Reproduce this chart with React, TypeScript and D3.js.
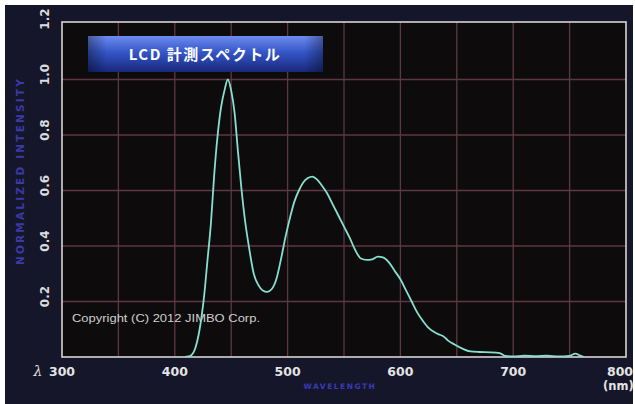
import React from "react";
import * as d3 from "d3";

const wavelengths = [409, 412, 415, 418, 422, 426, 429, 432, 435, 438, 441, 444, 447, 450, 453, 456, 459, 462, 466, 470, 474, 478, 482, 486, 490, 494, 498, 502, 506, 510, 514, 518, 522, 526, 530, 535, 540, 545, 550, 555, 560, 565, 570, 575, 580, 585, 590, 595, 600, 605, 610, 615, 620, 625, 630, 635, 638, 642, 648, 655, 662, 670, 680, 688, 693, 700, 710, 720, 730, 740, 750, 755, 760, 763];
const intensity = [0, 0.002, 0.008, 0.03, 0.1, 0.22, 0.35, 0.48, 0.66, 0.8, 0.9, 0.96, 1.0, 0.96, 0.88, 0.74, 0.61, 0.5, 0.39, 0.3, 0.26, 0.24, 0.235, 0.245, 0.28, 0.35, 0.43, 0.5, 0.56, 0.6, 0.63, 0.645, 0.65, 0.64, 0.62, 0.59, 0.55, 0.51, 0.47, 0.43, 0.385, 0.355, 0.35, 0.352, 0.362, 0.358, 0.34, 0.31, 0.28, 0.24, 0.2, 0.16, 0.13, 0.105, 0.09, 0.08, 0.075, 0.06, 0.045, 0.03, 0.02, 0.018, 0.017, 0.014, 0.004, 0.002, 0.005, 0.003, 0.005, 0.002, 0.004, 0.012, 0.004, 0];
const xTicks = [300, 400, 500, 600, 700, 800];
const xGrid = [350, 400, 450, 500, 550, 600, 650, 700, 750];
const yTicks = [0.2, 0.4, 0.6, 0.8, 1.0, 1.2];
const yGrid = [0.2, 0.4, 0.6, 0.8, 1.0];

export default function App() {
  const W = 635, H = 404;
  const x = d3.scaleLinear().domain([300, 800]).range([62, 626]);
  const y = d3.scaleLinear().domain([0, 1.2]).range([357, 24]);
  const data = wavelengths.map((w, i) => [w, intensity[i]] as [number, number]);
  const line = d3.line<[number, number]>().x(d => x(d[0])).y(d => y(d[1])).curve(d3.curveMonotoneX);
  const bold = "'DejaVu Sans', 'Liberation Sans', sans-serif";
  return (
    <svg width={W} height={H} style={{ position: "absolute", left: 0, top: 0 }}>
      <defs>
        <linearGradient id="tb" x1="0" y1="0" x2="0" y2="1">
          <stop offset="0" stopColor="#6d8cf0" />
          <stop offset="0.45" stopColor="#3556c8" />
          <stop offset="1" stopColor="#18287a" />
        </linearGradient>
        <linearGradient id="tbh" x1="0" y1="0" x2="1" y2="0">
          <stop offset="0" stopColor="#000" stopOpacity="0.35" />
          <stop offset="0.08" stopColor="#000" stopOpacity="0" />
          <stop offset="0.92" stopColor="#000" stopOpacity="0" />
          <stop offset="1" stopColor="#000" stopOpacity="0.35" />
        </linearGradient>
        <clipPath id="pc"><rect x={62} y={22} width={564} height={335} /></clipPath>
      </defs>
      <rect x={0} y={0} width={W} height={H} fill="#ffffff" />
      <rect x={5} y={5} width={628} height={H - 5} fill="#16162a" />
      <rect x={62} y={22} width={564} height={335} fill="#0e0b0c" />
      {xGrid.map(v => (
        <line key={"gx" + v} x1={x(v)} x2={x(v)} y1={22} y2={357} stroke="#5e3840" strokeWidth={1.3} />
      ))}
      {yGrid.map(v => (
        <line key={"gy" + v} x1={62} x2={626} y1={y(v)} y2={y(v)} stroke="#5e3840" strokeWidth={1.3} />
      ))}
      <rect x={62} y={22} width={564} height={335} fill="none" stroke="#d8d4d0" strokeWidth={1.6} />
      <rect x={88} y={36} width={235} height={36} fill="url(#tb)" />
      <rect x={88} y={36} width={235} height={36} fill="url(#tbh)" />
      <text x={205} y={60} textAnchor="middle" fill="#ffffff" fontFamily={"'Noto Sans CJK JP', sans-serif"} fontWeight="bold" fontSize={15} letterSpacing={1.5}>LCD 計測スペクトル</text>
      <text x={72} y={322} fill="#cfcfcf" fontFamily={"'Liberation Sans', sans-serif"} fontSize={11.5} textLength={188} lengthAdjust="spacingAndGlyphs">Copyright (C) 2012  JIMBO  Corp.</text>
      <path d={line(data) || ""} fill="none" stroke="#86e0d0" strokeWidth={1.8} clipPath="url(#pc)" />
      {yTicks.map(v => (
        <text key={"yt" + v} transform={`translate(49,${y(v) - 5}) rotate(-90)`} textAnchor="middle" fill="#dcdcdc" fontFamily={bold} fontWeight="bold" fontSize={12}>{v.toFixed(1)}</text>
      ))}
      <text transform={`translate(24,171) rotate(-90)`} textAnchor="middle" fill="#3a3aa8" fontFamily={bold} fontWeight="bold" fontSize={10.5} letterSpacing={2.2}>NORMALIZED  INTENSITY</text>
      {xTicks.map(v => (
        <text key={"xt" + v} x={v === 800 ? x(v) - 6 : x(v)} y={376} textAnchor="middle" fill="#e4e4e4" fontFamily={bold} fontWeight="bold" fontSize={12.5}>{v}</text>
      ))}
      <text x={38} y={376} textAnchor="middle" fill="#e4e4e4" fontFamily={"'DejaVu Serif', serif"} fontStyle="italic" fontSize={14}>λ</text>
      <text x={603} y={390} fill="#e4e4e4" fontFamily={bold} fontWeight="bold" fontSize={11.5}>(nm)</text>
      <text x={340} y={389} textAnchor="middle" fill="#3a3ab8" fontFamily={bold} fontWeight="bold" fontSize={7.5} letterSpacing={1.5}>WAVELENGTH</text>
    </svg>
  );
}
